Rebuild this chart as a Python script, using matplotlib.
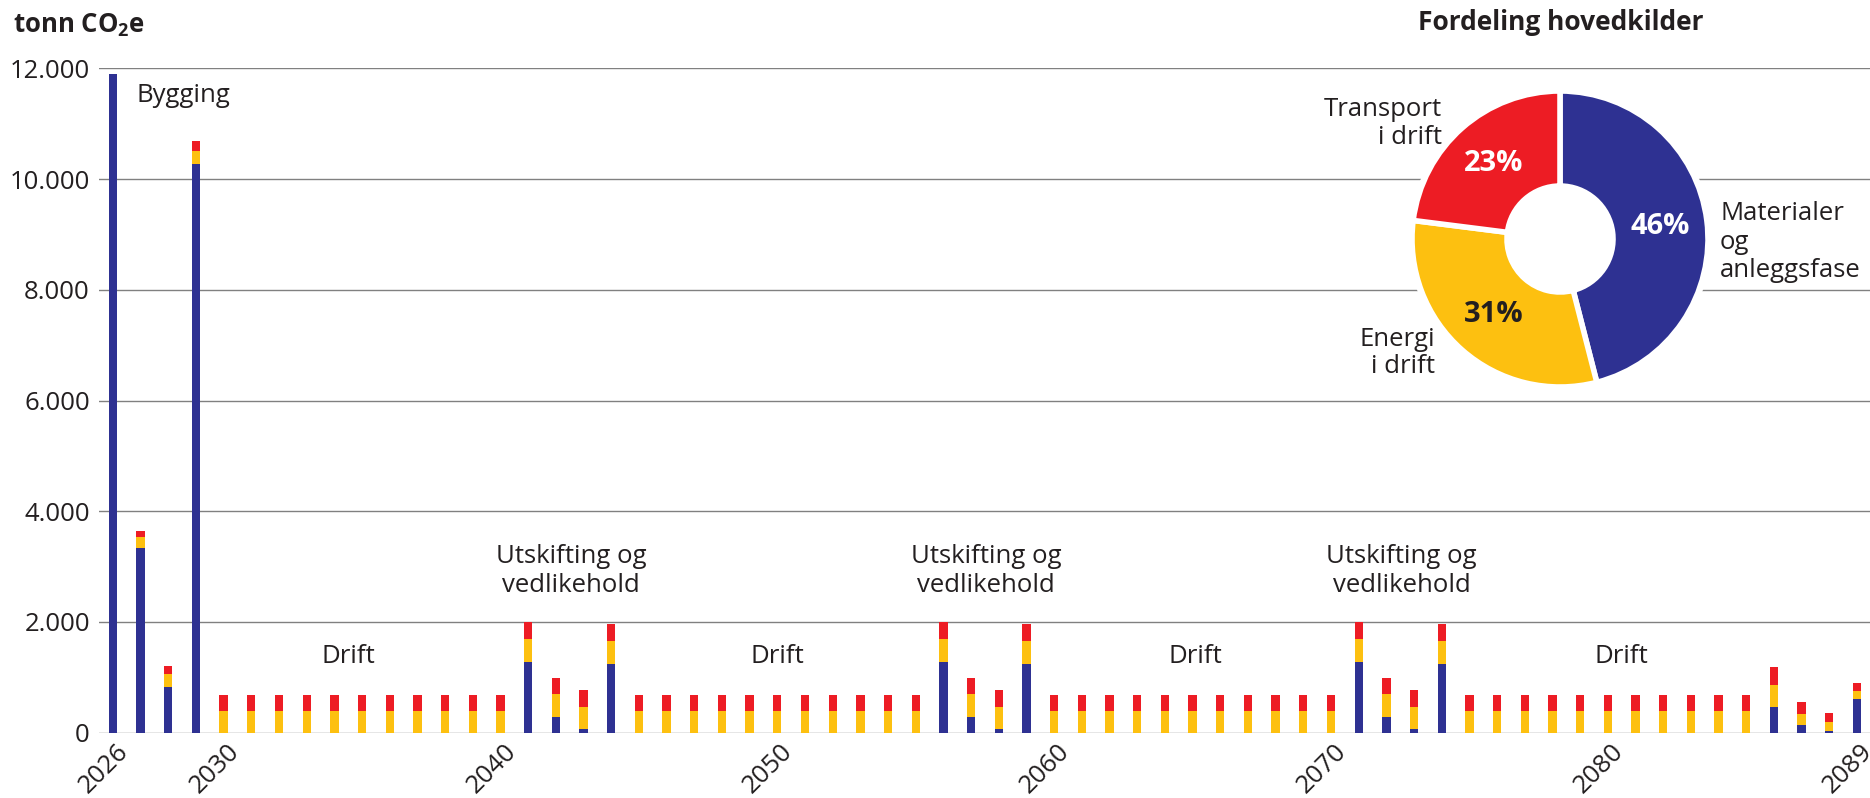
import matplotlib.pyplot as plt
from matplotlib.patches import Circle
from matplotlib.ticker import FuncFormatter
from matplotlib.transforms import ScaledTranslation

plt.rcParams['font.family'] = ['Open Sans', 'DejaVu Sans']
plt.rcParams['mathtext.fontset'] = 'custom'
plt.rcParams['mathtext.rm'] = 'Open Sans'
plt.rcParams['mathtext.bf'] = 'Open Sans:bold'

# utslipp per aar, tonn CO2e
years = list(range(2026, 2090))
materialer = [11900, 3340, 830, 10270,
              0, 0, 0, 0, 0, 0, 0, 0, 0, 0, 0,
              1280, 285, 70, 1240,
              0, 0, 0, 0, 0, 0, 0, 0, 0, 0, 0,
              1280, 285, 70, 1240,
              0, 0, 0, 0, 0, 0, 0, 0, 0, 0, 0,
              1280, 285, 70, 1240,
              0, 0, 0, 0, 0, 0, 0, 0, 0, 0, 0,
              470, 135, 30, 610]
energi = [0, 190, 230, 240,
          390, 390, 390, 390, 390, 390, 390, 390, 390, 390, 390,
          405, 410, 400, 420,
          390, 390, 390, 390, 390, 390, 390, 390, 390, 390, 390,
          405, 410, 400, 420,
          390, 390, 390, 390, 390, 390, 390, 390, 390, 390, 390,
          405, 410, 400, 420,
          390, 390, 390, 390, 390, 390, 390, 390, 390, 390, 390,
          390, 205, 160, 150]
transport = [0, 110, 145, 170,
             300, 300, 300, 300, 300, 300, 300, 300, 300, 300, 300,
             315, 300, 310, 310,
             300, 300, 300, 300, 300, 300, 300, 300, 300, 300, 300,
             315, 300, 310, 310,
             300, 300, 300, 300, 300, 300, 300, 300, 300, 300, 300,
             315, 300, 310, 310,
             300, 300, 300, 300, 300, 300, 300, 300, 300, 300, 300,
             320, 210, 175, 145]

year_ticks = [2026, 2030, 2040, 2050, 2060, 2070, 2080, 2089]

# fordeling hovedkilder (prosent)
andel = [46, 31, 23]
andel_navn = ['Materialer\nog\nanleggsfase', 'Energi\ni drift', 'Transport\ni drift']

blaa = '#2e3192'
gul = '#fdc010'
rod = '#ed1c24'
tekst = '#231f20'

fig = plt.figure(figsize=(18.7, 7.98), dpi=100)
ax = fig.add_axes([0.0529, 0.0818, 0.9471, 0.8326])

bunn2 = [m + e for m, e in zip(materialer, energi)]
ax.bar(years, materialer, width=0.3, color=blaa, zorder=3)
ax.bar(years, energi, width=0.3, bottom=materialer, color=gul, zorder=3)
ax.bar(years, transport, width=0.3, bottom=bunn2, color=rod, zorder=3)

ax.set_xlim(2025.495, 2089.47)
ax.set_ylim(0, 12000)
ax.set_yticks(range(0, 12001, 2000))
ax.yaxis.set_major_formatter(FuncFormatter(lambda v, p: f'{int(v):,}'.replace(',', '.')))
ax.yaxis.grid(True, color='#808080', linewidth=1.0, zorder=0)
ax.set_axisbelow(True)
for s in ax.spines.values():
    s.set_visible(False)
ax.tick_params(axis='y', length=0, pad=6.5, labelsize=18.5, labelcolor=tekst)
ax.tick_params(axis='x', length=0, pad=4.5, labelsize=18.5, labelcolor=tekst)

ax.set_xticks(year_ticks)
ax.set_xticklabels([str(y) for y in year_ticks], rotation=45, ha='right', va='top',
                   rotation_mode='anchor')
for lbl in ax.get_xticklabels():
    lbl.set_transform(lbl.get_transform() + ScaledTranslation(0.03, 0, fig.dpi_scale_trans))

# faser
ax.text(2026.86, 11400, 'Bygging', fontsize=18.5, color=tekst, va='baseline', ha='left')
for x in [2034.5, 2050.0, 2065.1, 2080.5]:
    ax.text(x, 1254, 'Drift', fontsize=18.5, color=tekst, va='baseline', ha='center')
for x in [2042.55, 2057.55, 2072.55]:
    ax.text(x, 2547, 'Utskifting og\nvedlikehold', fontsize=18.5, color=tekst,
            va='baseline', ha='center', linespacing=1.2)

fig.text(13 / 1870, 1 - 25 / 798, r'tonn CO$_\mathbf{2}$e', fontsize=18.5, fontweight='bold',
         color=tekst, va='center', ha='left')
fig.text(1561 / 1870, 1 - 23 / 798, 'Fordeling hovedkilder', fontsize=19, fontweight='bold',
         color=tekst, va='center', ha='center')

# kakediagram
R = 151
ax2 = fig.add_axes([(1560 - R) / 1870, (559 - R) / 798, 2 * R / 1870, 2 * R / 798])
ax2.add_patch(Circle((0, 0), 1.0, color='white', zorder=0))
wedges, labels, pcts = ax2.pie(andel, colors=[blaa, gul, rod], startangle=90, counterclock=False,
                               radius=148 / R, autopct='%d%%', pctdistance=0.68,
                               wedgeprops=dict(width=(148 - 53) / R, edgecolor='white', linewidth=4))
for t, c in zip(pcts, ['white', tekst, 'white']):
    t.set_color(c)
    t.set_fontsize(21)
    t.set_fontweight('bold')
ax2.set_xlim(-1, 1)
ax2.set_ylim(-1, 1)
ax2.axis('off')

ax2.text(1.06, -0.02, andel_navn[0], fontsize=18.5, color=tekst, ha='left', va='center',
         linespacing=1.2)
ax2.text(-0.828, -0.755, andel_navn[1], fontsize=18.5, color=tekst, ha='right', va='center',
         multialignment='right', linespacing=1.15)
ax2.text(-0.781, 0.765, andel_navn[2], fontsize=18.5, color=tekst, ha='right', va='center',
         multialignment='right', linespacing=1.15)

fig.savefig('out.png', dpi=100)
